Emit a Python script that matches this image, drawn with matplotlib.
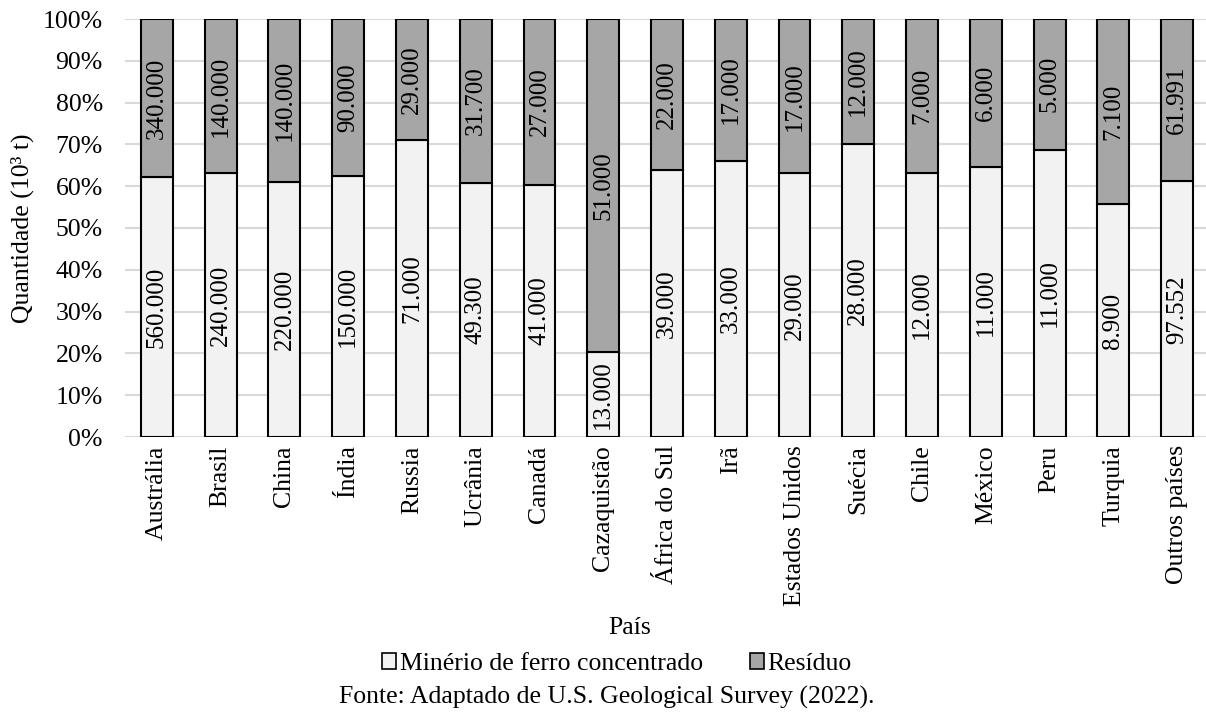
import matplotlib
matplotlib.use("Agg")
import matplotlib.pyplot as plt
from matplotlib.patches import Patch
import numpy as np

plt.rcParams['font.family'] = ['Liberation Serif', 'DejaVu Serif']

paises = ["Austrália", "Brasil", "China", "Índia", "Russia", "Ucrânia", "Canadá",
          "Cazaquistão", "África do Sul", "Irã", "Estados Unidos", "Suécia", "Chile",
          "México", "Peru", "Turquia", "Outros países"]
# quantidades em 10³ t
minerio = [560000, 240000, 220000, 150000, 71000, 49300, 41000, 13000, 39000,
           33000, 29000, 28000, 12000, 11000, 11000, 8900, 97552]
residuo = [340000, 140000, 140000, 90000, 29000, 31700, 27000, 51000, 22000,
           17000, 17000, 12000, 7000, 6000, 5000, 7100, 61991]

cor_minerio = "#f2f2f2"
cor_residuo = "#a6a6a6"


def fmt(v):
    return f"{v:,.0f}".replace(",", ".")


m = np.array(minerio, dtype=float)
r = np.array(residuo, dtype=float)
tot = m + r
pm = m / tot * 100
pr = r / tot * 100
x = np.arange(len(paises))

W, H = 1206, 718
fig = plt.figure(figsize=(W / 100, H / 100), dpi=100)
ax = fig.add_axes([125 / W, 1 - 437 / H, 1084 / W, 418 / H])

w = 0.5
ax.bar(x, pm, width=w, color=cor_minerio, edgecolor="black", linewidth=1.5, zorder=3)
ax.bar(x, pr, width=w, bottom=pm, color=cor_residuo, edgecolor="black", linewidth=1.5, zorder=3)

for i in range(len(x)):
    ax.text(x[i], pm[i] / 2, fmt(m[i]), rotation=90, ha="center", va="center",
            fontsize=18, zorder=4)
    ax.text(x[i], pm[i] + pr[i] / 2, fmt(r[i]), rotation=90, ha="center", va="center",
            fontsize=18, zorder=4)

ax.set_xlim(-0.5, len(x) - 0.5)
ax.set_ylim(0, 100)
ax.set_yticks(np.arange(0, 101, 10))
ax.set_yticklabels([f"{v}%" for v in range(0, 101, 10)], fontsize=18.5)
ax.yaxis.grid(True, color="#d9d9d9", linewidth=1.5, zorder=0)
ax.set_axisbelow(True)
ax.set_xticks(x)
ax.set_xticklabels(paises, rotation=90, fontsize=18.5)
ax.tick_params(axis="both", length=0)
ax.tick_params(axis="y", pad=16)
ax.tick_params(axis="x", pad=6)
for s in ax.spines.values():
    s.set_visible(False)

ax.set_ylabel("Quantidade (10³ t)", fontsize=18.5, labelpad=6)

fig.text(630 / W, 1 - 628 / H, "País", ha="center", va="center", fontsize=18.5)

handles = [Patch(facecolor=cor_minerio, edgecolor="black", linewidth=1.2),
           Patch(facecolor=cor_residuo, edgecolor="black", linewidth=1.2)]
fig.legend(handles, ["Minério de ferro concentrado", "Resíduo"], loc="center",
           bbox_to_anchor=(617 / W, 1 - 664 / H), ncol=2, frameon=False,
           fontsize=18.5, handlelength=0.55, handleheight=0.55, handletextpad=0.15,
           columnspacing=1.8, borderpad=0)

fig.text(607 / W, 1 - 697 / H, "Fonte: Adaptado de U.S. Geological Survey (2022).",
         ha="center", va="center", fontsize=18.5)

fig.savefig("out.png", dpi=100)
